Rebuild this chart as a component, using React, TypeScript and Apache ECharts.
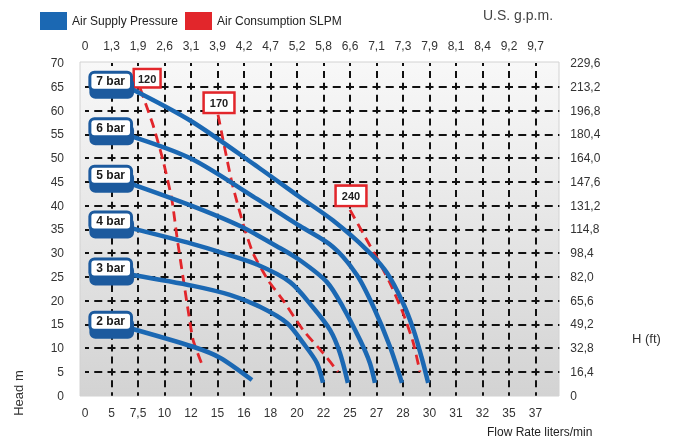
import React, { useEffect, useRef } from 'react';
import * as echarts from 'echarts';

// Bottom axis (flow rate, liters/min) — evenly spaced tick labels
const flowLabels = ['0', '5', '7,5', '10', '12', '15', '16', '18', '20', '22', '25', '27', '28', '30', '31', '32', '35', '37'];
// Top axis (U.S. g.p.m.)
const gpmLabels = ['0', '1,3', '1,9', '2,6', '3,1', '3,9', '4,2', '4,7', '5,2', '5,8', '6,6', '7,1', '7,3', '7,9', '8,1', '8,4', '9,2', '9,7'];
// Right axis (H ft) for head 0..70 m, step 5
const ftLabels = ['0', '16,4', '32,8', '49,2', '65,6', '82,0', '98,4', '114,8', '131,2', '147,6', '164,0', '180,4', '196,8', '213,2', '229,6'];

// Air supply pressure curves: [axis position, head m]
const pressureNames = ['7 bar', '6 bar', '5 bar', '4 bar', '3 bar', '2 bar'];
const bar7 = [[1.7, 64.7], [4.0, 57.8], [6.6, 47.8], [8.1, 41.8], [9.35, 36.9], [10.65, 30.6], [11.4, 25.8], [12.0, 19.5], [12.4, 13.8], [12.7, 8.1], [12.95, 2.7]];
const bar6 = [[1.58, 54.9], [3.96, 50.0], [6.49, 41.4], [8.11, 35.7], [9.36, 31.3], [10.26, 25.4], [10.9, 18.5], [11.51, 10.3], [11.96, 2.7]];
const bar5 = [[1.58, 44.9], [3.96, 40.1], [5.85, 35.7], [7.25, 31.4], [8.11, 28.5], [9.13, 23.9], [9.74, 18.6], [10.38, 11.7], [10.75, 6.9], [10.94, 2.7]];
const bar4 = [[1.7, 35.3], [4.08, 31.9], [5.21, 30.0], [6.49, 27.6], [7.74, 23.9], [8.6, 18.6], [9.25, 13.8], [9.62, 9.0], [9.92, 2.7]];
const bar3 = [[1.81, 25.4], [4.08, 23.1], [5.47, 21.2], [6.6, 18.7], [7.62, 15.3], [8.23, 11.1], [8.75, 6.9], [8.98, 2.7]];
const bar2 = [[1.7, 14.2], [4.08, 10.3], [5.09, 8.0], [6.3, 3.3]];
const pressureCurves = [bar7, bar6, bar5, bar4, bar3, bar2];

// Air consumption curves (SLPM)
const consumptionNames = ['120', '170', '240'];
const slpm120 = [[2.08, 64.7], [2.57, 56.9], [2.94, 49.6], [3.28, 41.2], [3.47, 33.4], [3.7, 24.9], [3.89, 18.0], [4.08, 11.7], [4.42, 6.5]];
const slpm170 = [[5.02, 59.1], [5.21, 53.8], [5.55, 44.7], [5.96, 36.3], [6.34, 30.0], [6.91, 24.3], [7.47, 20.1], [8.23, 13.8], [8.98, 9.0], [9.55, 5.0]];
const slpm240 = [[10.0, 39.1], [10.49, 34.2], [11.06, 28.5], [11.51, 23.7], [12.0, 17.4], [12.38, 11.3], [12.64, 5.0]];
const consumptionCurves = [slpm120, slpm170, slpm240];

const BLUE = '#1b68b3';
const BLUE_DARK = '#1a5a9e';
const RED = '#e2262b';
const FONT = '"Liberation Sans", Arial, sans-serif';
const X_MAX = 17.9;
const UNIT_PX = 26.5;
const BOX_END = 1.7; // axis position where the pressure label boxes end

export default function App() {
  const ref = useRef<HTMLDivElement>(null);

  useEffect(() => {
    if (!ref.current) return;
    const chart = echarts.init(ref.current, undefined, { renderer: 'svg' });

    const labelAt = (arr: string[], v: number) =>
      Math.abs(v - Math.round(v)) < 1e-6 ? arr[Math.round(v)] ?? '' : '';

    const blueSeries = pressureCurves.map((pts, si) => ({
      type: 'line',
      name: 'Air Supply Pressure',
      smooth: 0.3,
      symbol: 'circle',
      symbolSize: 0,
      showSymbol: true,
      z: 4,
      lineStyle: { color: BLUE, width: 4.5 },
      itemStyle: { color: BLUE },
      label: { show: false },
      data: pts.map((p, i) =>
        i === 0
          ? {
              value: p,
              label: {
                show: true,
                position: 'left',
                distance: 0,
                offset: [(BOX_END - p[0]) * UNIT_PX, -7],
                formatter: pressureNames[si],
                color: '#1a1a1a',
                fontWeight: 'bold',
                fontSize: 12,
                fontFamily: FONT,
                backgroundColor: '#ffffff',
                borderColor: BLUE_DARK,
                borderWidth: 3,
                borderRadius: 3,
                padding: [2, 5, 1, 5],
                shadowColor: BLUE_DARK,
                shadowOffsetY: 7,
                shadowOffsetX: 1,
                shadowBlur: 0,
              },
            }
          : p
      ),
    }));

    const redOffsets = [[7, 0], [1, -1], [1, -3]];
    const redPadding = [[3, 3, 2, 3], [4, 5, 3, 5], [4, 5, 3, 5]];
    const redSeries = consumptionCurves.map((pts, si) => ({
      type: 'line',
      name: 'Air Consumption SLPM',
      smooth: 0.2,
      symbol: 'circle',
      symbolSize: 0,
      showSymbol: true,
      z: 3,
      lineStyle: { color: RED, width: 2.8, type: [10, 6] },
      itemStyle: { color: RED },
      label: { show: false },
      data: pts.map((p, i) =>
        i === 0
          ? {
              value: p,
              label: {
                show: true,
                position: 'top',
                distance: 2,
                offset: redOffsets[si],
                formatter: consumptionNames[si],
                color: '#222',
                fontWeight: 'bold',
                fontSize: 11,
                fontFamily: FONT,
                backgroundColor: '#ffffff',
                borderColor: RED,
                borderWidth: 2.5,
                padding: redPadding[si],
              },
            }
          : p
      ),
    }));

    const axisText = { color: '#333', fontSize: 12, fontFamily: FONT };
    const legendBase = {
      top: 7,
      itemWidth: 27,
      itemHeight: 18,
      selectedMode: false,
      textStyle: { fontSize: 12, color: '#222', fontFamily: FONT },
    };

    chart.setOption({
      animation: false,
      legend: [
        { ...legendBase, left: 35, data: [{ name: 'Air Supply Pressure', icon: 'rect' }] },
        { ...legendBase, left: 180, data: [{ name: 'Air Consumption SLPM', icon: 'rect' }] },
      ],
      grid: { left: 85, right: 683 - (85 + UNIT_PX * X_MAX), top: 63, bottom: 441 - 395.7 },
      graphic: [
        {
          type: 'rect',
          z: -10,
          silent: true,
          shape: { x: 80, y: 62, width: 479, height: 334 },
          style: {
            fill: new echarts.graphic.LinearGradient(0, 0, 0, 1, [
              { offset: 0, color: '#f8f8f8' },
              { offset: 1, color: '#d3d3d3' },
            ]),
            stroke: '#d2d2d2',
            lineWidth: 1,
          },
        },
        {
          type: 'text',
          x: 483,
          y: 15,
          style: { text: 'U.S. g.p.m.', fontSize: 14, fill: '#444', fontFamily: FONT, align: 'left', verticalAlign: 'middle' },
        },
        {
          type: 'text',
          x: 632,
          y: 338,
          style: { text: 'H (ft)', fontSize: 13, fill: '#333', fontFamily: FONT, align: 'left', verticalAlign: 'middle' },
        },
        {
          type: 'text',
          x: 18,
          y: 393,
          rotation: Math.PI / 2,
          style: { text: 'Head m', fontSize: 13, fill: '#333', fontFamily: FONT, align: 'center', verticalAlign: 'middle' },
        },
        {
          type: 'text',
          x: 487,
          y: 432,
          style: { text: 'Flow Rate liters/min', fontSize: 12, fill: '#222', fontFamily: FONT, align: 'left', verticalAlign: 'middle' },
        },
      ],
      xAxis: [
        {
          type: 'value',
          position: 'bottom',
          min: 0,
          max: X_MAX,
          interval: 1,
          axisLine: { show: false },
          axisTick: { show: false },
          axisLabel: { ...axisText, margin: 11, showMaxLabel: false, formatter: (v: number) => labelAt(flowLabels, v) },
          splitLine: {
            show: true,
            showMinLine: false,
            showMaxLine: false,
            lineStyle: { color: '#111', width: 2, type: [7, 4.9], dashOffset: 3.5 },
          },
        },
        {
          type: 'value',
          position: 'top',
          min: 0,
          max: X_MAX,
          interval: 1,
          axisLine: { show: false },
          axisTick: { show: false },
          axisLabel: { ...axisText, margin: 11, showMaxLabel: false, formatter: (v: number) => labelAt(gpmLabels, v) },
          splitLine: { show: false },
        },
      ],
      yAxis: [
        {
          type: 'value',
          position: 'left',
          min: 0,
          max: 70,
          interval: 5,
          axisLine: { show: false },
          axisTick: { show: false },
          axisLabel: { ...axisText, margin: 21 },
          splitLine: {
            show: true,
            showMinLine: false,
            showMaxLine: false,
            lineStyle: { color: '#111', width: 2, type: [8, 5.25], dashOffset: 4 },
          },
        },
        {
          type: 'value',
          position: 'right',
          min: 0,
          max: 70,
          interval: 5,
          axisLine: { show: false },
          axisTick: { show: false },
          axisLabel: { ...axisText, margin: 11, formatter: (v: number) => labelAt(ftLabels, v / 5) },
          splitLine: { show: false },
        },
      ],
      series: [...redSeries, ...blueSeries],
    });

    return () => chart.dispose();
  }, []);

  return <div ref={ref} style={{ position: 'fixed', left: 0, top: 0, width: 683, height: 441 }} />;
}
